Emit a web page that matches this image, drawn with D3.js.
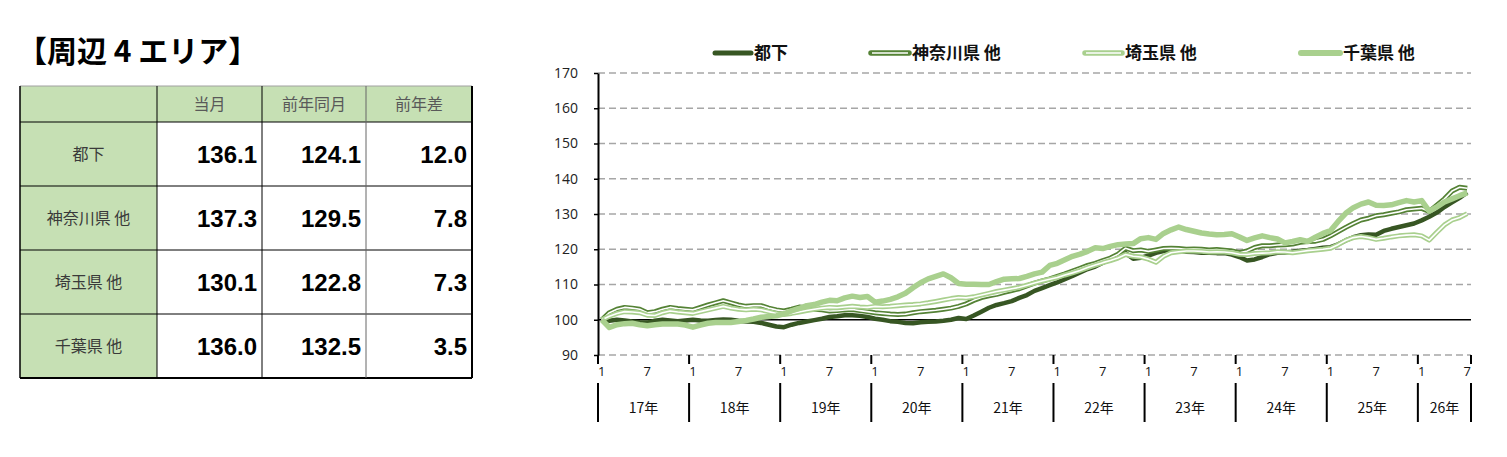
<!DOCTYPE html>
<html>
<head>
<meta charset="utf-8">
<script src="https://cdn.jsdelivr.net/npm/d3@7"></script>
<style>
  body { margin: 0; background: #fff; }
  svg { display: block; font-family: "Noto Sans CJK JP", "Noto Sans", sans-serif; }
</style>
</head>
<body>
<svg id="chart" width="1507" height="457"></svg>
<script>
// table values
var areas = ["都下", "神奈川県 他", "埼玉県 他", "千葉県 他"];
var tableHeads = ["当月", "前年同月", "前年差"];
var currentVals = ["136.1", "137.3", "130.1", "136.0"];
var prevYearVals = ["124.1", "129.5", "122.8", "132.5"];
var diffVals = ["12.0", "7.8", "7.3", "3.5"];

// chart categories
var years = ["17年", "18年", "19年", "20年", "21年", "22年", "23年", "24年", "25年", "26年"];
var monthsInYear = [12, 12, 12, 12, 12, 12, 12, 12, 12, 7];
var monthTickLabels = [1, 7];
var yTicks = [90, 100, 110, 120, 130, 140, 150, 160, 170];

// series values, monthly from 17年1月
var tokaVals = [
  100.0, 99.7, 100.0, 99.8, 99.5, 99.3, 99.2, 99.7, 100.0, 99.8, 99.6, 99.8,
  100.0, 99.8, 99.7, 99.9, 100.1, 100.0, 99.7, 99.5, 99.4, 99.1, 98.6, 98.1,
  97.9, 98.6, 99.1, 99.5, 99.9, 100.3, 100.8, 101.0, 101.3, 101.3, 101.1, 100.8,
  100.3, 100.0, 99.6, 99.4, 99.1, 99.0, 99.3, 99.4, 99.5, 99.7, 100.0, 100.5,
  100.2, 101.2, 102.3, 103.4, 104.2, 104.7, 105.3, 106.2, 107.0, 108.2, 109.0, 109.8,
  110.6, 111.5, 112.4, 113.4, 114.4, 115.1, 116.2, 117.0, 118.2, 118.9, 117.3, 117.6,
  118.2, 119.0, 119.5, 119.8, 119.6, 119.3, 119.2, 119.0, 119.0, 118.9, 118.9, 118.5,
  117.8, 116.8, 117.1, 117.8, 118.6, 119.0, 119.1, 119.3, 119.6, 119.8, 120.1, 120.4,
  120.6, 121.4, 122.5, 123.4, 124.0, 124.2, 124.1, 125.2, 125.8, 126.3, 126.8, 127.3,
  128.2, 129.2, 130.4, 132.0, 133.3, 134.6, 136.1
];
var kanagawaVals = [
  100.0, 102.0, 103.0, 103.5, 103.3, 103.0, 102.0, 102.3, 103.0, 103.5, 103.2, 103.0,
  102.8, 103.5, 104.2, 104.8, 105.4, 104.8, 104.2, 103.8, 104.0, 104.0, 103.3, 102.8,
  102.5, 103.0, 103.6, 103.4, 103.0, 102.8, 102.5, 102.6, 102.8, 102.9, 102.6, 102.3,
  102.0, 101.8, 101.6, 101.5, 101.6, 102.0, 102.3, 102.5, 102.7, 103.0, 103.3, 103.8,
  104.5, 105.5, 106.3, 106.8, 107.2, 107.8, 108.3, 108.8, 109.6, 110.4, 111.0, 111.6,
  112.3, 113.0, 113.8, 114.6, 115.4, 116.0, 116.8, 117.5, 118.6, 120.3, 119.6, 119.8,
  119.4, 119.8, 120.2, 120.3, 120.2, 120.0, 120.1, 120.0, 119.8, 119.9, 119.7, 119.5,
  119.0, 119.5, 120.5, 121.0, 121.0, 121.2, 121.3, 121.5, 122.0, 122.2, 122.3, 122.8,
  123.8, 125.0, 126.2, 127.3, 128.3, 128.8, 129.5, 129.8, 130.2, 130.6, 131.2, 131.4,
  131.6, 130.7, 132.5, 134.3, 136.5, 137.6, 137.3
];
var saitamaVals = [
  100.0, 101.0, 101.8, 102.3, 102.2, 102.0, 101.3, 101.2, 102.0, 102.5, 102.2, 102.0,
  101.8, 102.3, 102.8, 103.3, 103.8, 103.3, 103.0, 102.8, 103.0, 102.8, 102.3, 101.8,
  101.5, 101.8, 102.2, 102.6, 103.0, 103.3, 103.5, 103.4, 103.6, 103.8, 103.6, 103.5,
  103.8, 103.7, 103.8, 104.0, 104.2, 104.3, 104.5, 104.8, 105.2, 105.6, 106.0, 106.3,
  106.2, 106.5, 107.0, 107.5, 108.0, 108.4, 108.8, 109.2, 109.8, 110.4, 111.0, 111.5,
  112.0, 112.7, 113.3, 114.0, 114.8, 115.5, 116.2, 116.8, 117.5, 118.5, 118.0, 117.8,
  117.2, 116.3, 118.0, 119.0, 119.3, 119.5, 119.5, 119.4, 119.2, 119.3, 119.2, 119.0,
  118.6, 118.5, 118.8, 118.9, 119.0, 119.3, 119.2, 119.0, 119.3, 119.6, 119.8, 120.0,
  120.3, 121.3, 122.5, 123.3, 123.6, 123.3, 122.8, 123.1, 123.5, 123.8, 124.0, 124.1,
  123.8, 122.6, 124.8, 126.9, 128.3, 129.0, 130.1
];
var chibaVals = [
  100.0, 97.8, 98.6, 98.9, 99.0, 98.6, 98.3, 98.6, 98.8, 98.8, 98.8, 98.5,
  97.9, 98.5, 99.0, 99.2, 99.2, 99.2, 99.5, 99.8, 100.2, 100.7, 100.9, 101.1,
  101.7, 102.5, 103.2, 104.0, 104.3, 105.0, 105.5, 105.4, 106.2, 106.7, 106.3, 106.6,
  105.0, 105.3, 105.8, 106.5, 107.5, 109.1, 110.5, 111.6, 112.3, 113.0, 111.9, 110.3,
  110.1, 110.1, 110.0, 110.0, 110.8, 111.5, 111.6, 111.7, 112.3, 113.0, 113.5, 115.4,
  116.0, 117.0, 118.0, 118.6, 119.4, 120.4, 120.2, 120.8, 121.3, 121.5, 121.6, 123.0,
  123.3, 122.8, 124.5, 125.5, 126.3, 125.6, 125.1, 124.6, 124.3, 124.1, 124.2, 124.4,
  123.5, 122.5, 123.2, 123.8, 123.3, 122.9, 121.8, 122.2, 122.7, 122.2, 123.4, 124.5,
  125.3, 127.9, 130.2, 131.8, 132.8, 133.4, 132.5, 132.4, 132.6, 133.2, 133.8, 133.4,
  133.8, 130.8, 132.0, 133.4, 134.3, 135.2, 136.0
];

var seriesNames = ["都下", "神奈川県 他", "埼玉県 他", "千葉県 他"];
var seriesVals = [tokaVals, kanagawaVals, saitamaVals, chibaVals];

function init() {
  var svg = d3.select("#chart");

  // ---------- title + table ----------
  svg.append("text")
    .attr("x", 17)
    .attr("y", 62)
    .attr("font-size", 30)
    .attr("font-weight", "bold")
    .attr("fill", "#000")
    .text("【周辺 4 エリア】");

  var colX = [20, 157, 262, 366, 472];
  var rowY = [86, 122, 186, 250, 314, 378];
  var tbl = svg.append("g");

  // green fills
  tbl.append("rect")
    .attr("x", colX[0]).attr("y", rowY[0])
    .attr("width", colX[4] - colX[0]).attr("height", rowY[1] - rowY[0])
    .attr("fill", "#c6e0b4");
  tbl.append("rect")
    .attr("x", colX[0]).attr("y", rowY[1])
    .attr("width", colX[1] - colX[0]).attr("height", rowY[5] - rowY[1])
    .attr("fill", "#c6e0b4");

  // grid lines
  rowY.forEach(function(yy, i) {
    tbl.append("line")
      .attr("x1", colX[0]).attr("x2", colX[4])
      .attr("y1", yy).attr("y2", yy)
      .attr("stroke", i == 0 ? "#a0a0a0" : "#000")
      .attr("stroke-width", i == 5 ? 2 : 1);
  });
  colX.forEach(function(xx, i) {
    tbl.append("line")
      .attr("x1", xx).attr("x2", xx)
      .attr("y1", rowY[0]).attr("y2", rowY[5])
      .attr("stroke", i == 3 ? "#666" : "#000")
      .attr("stroke-width", i == 4 ? 2 : (i == 0 ? 1.5 : 1));
  });

  // header text
  tableHeads.forEach(function(h, i) {
    tbl.append("text")
      .attr("x", (colX[i + 1] + colX[i + 2]) / 2)
      .attr("y", (rowY[0] + rowY[1]) / 2 + 6)
      .attr("text-anchor", "middle")
      .attr("font-size", 16)
      .attr("fill", "#595959")
      .text(h);
  });

  areas.forEach(function(a, r) {
    var cy = (rowY[r + 1] + rowY[r + 2]) / 2;
    tbl.append("text")
      .attr("x", (colX[0] + colX[1]) / 2)
      .attr("y", cy + 6)
      .attr("text-anchor", "middle")
      .attr("font-size", 16)
      .attr("fill", "#3a3a3a")
      .text(a);
    [currentVals[r], prevYearVals[r], diffVals[r]].forEach(function(v, c) {
      tbl.append("text")
        .attr("x", colX[c + 2] - 5)
        .attr("y", cy + 9)
        .attr("text-anchor", "end")
        .attr("font-family", "'Liberation Sans', Arial, sans-serif")
        .attr("font-weight", "bold")
        .attr("font-size", 24)
        .attr("fill", "#000")
        .text(v);
    });
  });

  // ---------- line chart ----------
  var months = [];
  years.forEach(function(yr, yi) {
    for (var m = 1; m <= monthsInYear[yi]; m++) {
      months.push({ year: yi, month: m });
    }
  });

  var left = 598, right = 1471, top = 73, bottom = 355;

  var xScale = d3.scaleBand()
    .domain(d3.range(months.length))
    .range([left, right])
    .paddingInner(0)
    .paddingOuter(0);
  var cx = function(i) { return xScale(i) + xScale.bandwidth() / 2; };

  var yScale = d3.scaleLinear()
    .domain([90, 170])
    .range([bottom, top]);

  // gridlines
  svg.append("g")
    .selectAll("line")
    .data(yTicks.filter(function(t) { return t != 100; }))
    .enter().append("line")
    .attr("x1", left).attr("x2", right)
    .attr("y1", function(d) { return yScale(d); })
    .attr("y2", function(d) { return yScale(d); })
    .attr("stroke", "#a6a6a6")
    .attr("stroke-width", 1.5)
    .attr("stroke-dasharray", "7,4");

  // base line at 100
  svg.append("line")
    .attr("x1", left).attr("x2", right)
    .attr("y1", yScale(100)).attr("y2", yScale(100))
    .attr("stroke", "#000")
    .attr("stroke-width", 1.5);

  // y axis
  var yAxis = d3.axisLeft(yScale)
    .tickValues(yTicks)
    .tickSize(4)
    .tickSizeOuter(0)
    .tickPadding(16);
  var yg = svg.append("g")
    .attr("transform", "translate(" + left + ",0)")
    .call(yAxis);
  yg.select(".domain").attr("stroke", "#000").attr("stroke-width", 2);
  yg.selectAll(".tick line").attr("stroke", "#000").attr("stroke-width", 1.5);
  yg.selectAll(".tick text")
    .attr("font-family", "'Open Sans', 'Noto Sans', sans-serif")
    .attr("font-size", 14)
    .attr("fill", "#222");

  // x axis month labels
  var tickIdx = d3.range(months.length).filter(function(i) {
    return monthTickLabels.indexOf(months[i].month) >= 0;
  });
  var xAxis = d3.axisBottom(xScale)
    .tickValues(tickIdx)
    .tickFormat(function(i) { return months[i].month; })
    .tickSize(0)
    .tickPadding(12);
  var xg = svg.append("g")
    .attr("transform", "translate(0," + bottom + ")")
    .call(xAxis);
  xg.select(".domain").remove();
  xg.selectAll(".tick text")
    .attr("font-family", "'Open Sans', 'Noto Sans', sans-serif")
    .attr("font-size", 13)
    .attr("fill", "#111");

  // year separators and labels
  var yearStart = [];
  var acc = 0;
  monthsInYear.forEach(function(n) { yearStart.push(acc); acc += n; });
  var bounds = yearStart.map(function(s) { return xScale(s); }).concat([right]);

  var sep = svg.append("g");
  bounds.forEach(function(bx) {
    sep.append("line")
      .attr("x1", bx).attr("x2", bx)
      .attr("y1", bottom).attr("y2", bottom + 9)
      .attr("stroke", "#000").attr("stroke-width", 2);
    sep.append("line")
      .attr("x1", bx).attr("x2", bx)
      .attr("y1", bottom + 28).attr("y2", 422)
      .attr("stroke", "#000").attr("stroke-width", 2);
  });

  svg.append("g")
    .selectAll("text")
    .data(years)
    .enter().append("text")
    .attr("x", function(d, i) { return (bounds[i] + bounds[i + 1]) / 2; })
    .attr("y", 413)
    .attr("text-anchor", "middle")
    .attr("font-size", 14)
    .attr("fill", "#111")
    .text(function(d) { return d; });

  // series
  var line = d3.line()
    .x(function(d, i) { return cx(i); })
    .y(function(d) { return yScale(d); });

  var styles = [
    { color: "#375623", width: 4.5, inner: 0 },
    { color: "#548235", width: 5, inner: 1.6 },
    { color: "#a9d08e", width: 5, inner: 1.6 },
    { color: "#a9d08e", width: 5.5, inner: 0 }
  ];

  var plot = svg.append("g");
  seriesVals.forEach(function(vals, s) {
    plot.append("path")
      .datum(vals)
      .attr("fill", "none")
      .attr("stroke", styles[s].color)
      .attr("stroke-width", styles[s].width)
      .attr("stroke-linejoin", "round")
      .attr("d", line);
    if (styles[s].inner) {
      plot.append("path")
        .datum(vals)
        .attr("fill", "none")
        .attr("stroke", "#fff")
        .attr("stroke-width", styles[s].inner)
        .attr("stroke-linejoin", "round")
        .attr("d", line);
    }
  });

  // legend
  var legendX = [715, 871, 1085, 1301];
  var legendW = [36, 38, 37, 39];
  var lg = svg.append("g");
  seriesNames.forEach(function(name, s) {
    lg.append("line")
      .attr("x1", legendX[s]).attr("x2", legendX[s] + legendW[s])
      .attr("y1", 53).attr("y2", 53)
      .attr("stroke", styles[s].color)
      .attr("stroke-width", styles[s].width + 0.5)
      .attr("stroke-linecap", "round");
    if (styles[s].inner) {
      lg.append("line")
        .attr("x1", legendX[s] + 1).attr("x2", legendX[s] + legendW[s] - 1)
        .attr("y1", 53).attr("y2", 53)
        .attr("stroke", "#fff")
        .attr("stroke-width", styles[s].inner);
    }
    lg.append("text")
      .attr("x", legendX[s] + legendW[s] + 3)
      .attr("y", 59)
      .attr("font-size", 17)
      .attr("font-weight", 600)
      .attr("fill", "#111")
      .text(name);
  });
}

window.onload = init;
</script>
</body>
</html>
